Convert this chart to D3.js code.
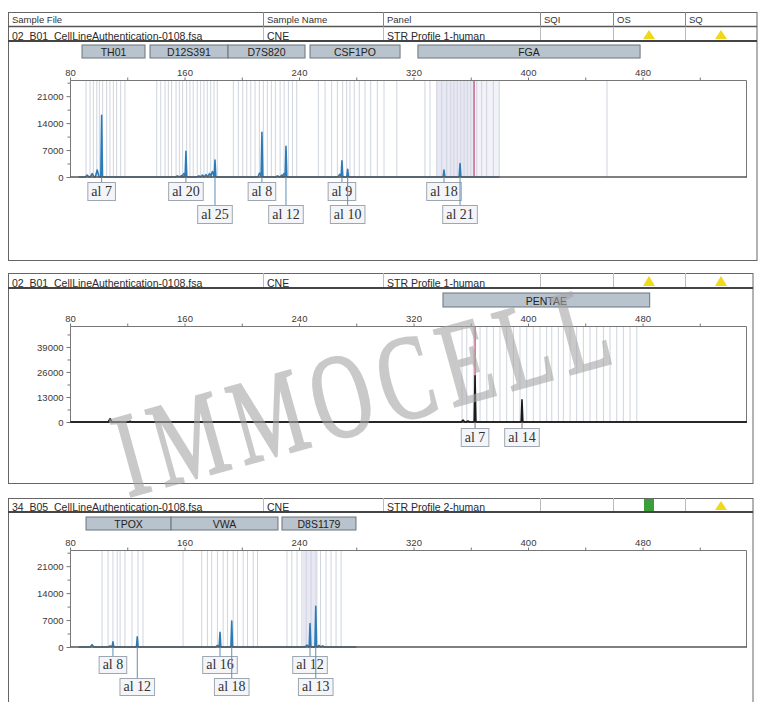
<!DOCTYPE html>
<html><head><meta charset="utf-8">
<script src="https://cdn.jsdelivr.net/npm/d3@7"></script>
<style>body{margin:0;background:#fff}svg{display:block}</style>
</head><body>
<svg id="c" width="760" height="702"></svg>
<script>
// ---------------- DATA ----------------
const xTicks = [80, 160, 240, 320, 400, 480];
const xMinorTicks = [120, 200, 280, 360, 440, 520];
const headerCols = ["Sample File", "Sample Name", "Panel", "SQI", "OS", "SQ"];

// Panel 1
const p1Info = ["02_B01_CellLineAuthentication-0108.fsa", "CNE", "STR Profile 1-human"];
const p1Status = ["", "", "", "warn", "warn"];
const p1YTicks = [0, 7000, 14000, 21000];
const p1YMinor = [3500, 10500, 17500, 24500];
const p1Markers = ["TH01", "D12S391", "D7S820", "CSF1PO", "FGA"];
const p1MarkerStart = [88.4, 135.9, 190.4, 247.7, 323.1];
const p1MarkerEnd = [132.4, 190.4, 244.2, 310.6, 478.3];
const p1Size = [102.1, 161.0, 181.3, 214.1, 230.9, 270.0, 274.0, 341.3, 352.5];
const p1Height = [16000, 6700, 4400, 11600, 8000, 4200, 2000, 1800, 3500];
const p1Allele = ["al 7", "al 20", "al 25", "al 8", "al 12", "al 9", "al 10", "al 18", "al 21"];
const p1LabelRow = [1, 1, 2, 1, 2, 1, 2, 1, 2];
const p1NoiseSize = [92, 95.5, 99, 155, 158, 159.5, 170, 172.5, 175, 177.5, 179.5, 212.5, 225, 228, 229.5, 268.5];
const p1NoiseHeight = [500, 900, 1800, 300, 400, 900, 300, 500, 600, 900, 1400, 1000, 300, 500, 900, 700];
const p1Bins = [91.2, 94, 96.3, 98.7, 100.5, 102.8, 105.6, 107.9, 110.3, 112.6, 115.4, 118.4,
  140.6, 143.4, 146.4, 148.7, 151, 154.1, 156.4, 158.7, 161.5, 163.8, 166.1, 168.9, 171.3, 173.6, 175.9, 178.3, 180.6, 182.9,
  194.1, 197.6, 200.7, 203.5, 206.3, 209.3, 212.3, 215.1, 217.9, 220.7, 223.5, 226.8, 229.6, 232.6, 235.4, 238.4,
  253.5, 258.2, 262.8, 266.8, 270.5, 273.3, 275.6, 278.6, 282.1, 286.1, 290.1, 294.7, 299.4, 308.3,
  328, 331.5, 336.2, 339.7, 343.2, 346, 348.3, 350.6, 353, 355.3, 357.6, 360, 364.2, 367.6, 371.1, 375.8, 379.9, 455.2];
const p1ShadeStart = [336, 362];
const p1ShadeEnd = [362.3, 380];
const p1Cursor = 362.3;

// Panel 2
const p2Info = ["02_B01_CellLineAuthentication-0108.fsa", "CNE", "STR Profile 1-human"];
const p2Status = ["", "", "", "warn", "warn"];
const p2YTicks = [0, 13000, 26000, 39000];
const p2YMinor = [6500, 19500, 32500, 45500];
const p2Markers = ["PENTAE"];
const p2MarkerStart = [340.6];
const p2MarkerEnd = [485];
const p2Size = [363.0, 395.8];
const p2Height = [24000, 11500];
const p2Allele = ["al 7", "al 14"];
const p2LabelRow = [1, 1];
const p2NoiseSize = [108, 122, 354.6, 358];
const p2NoiseHeight = [1700, 400, 1000, 500];
const p2Bins = [353.9, 357.2, 361.8, 366.5, 371.2, 375.8, 380.4, 385.1, 389.8, 394.4, 399.1, 403.7, 408.4, 413, 416.6,
  421.2, 424.7, 429.4, 434, 438.7, 443.3, 448, 452.7, 457.3, 462, 466.6, 471.3, 476];
const p2ShadeStart = [];
const p2ShadeEnd = [];
const p2Cursor = 363.0;

// Panel 3
const p3Info = ["34_B05_CellLineAuthentication-0108.fsa", "CNE", "STR Profile 2-human"];
const p3Status = ["", "", "", "pass", "warn"];
const p3YTicks = [0, 7000, 14000, 21000];
const p3YMinor = [3500, 10500, 17500, 24500];
const p3Markers = ["TPOX", "VWA", "D8S1179"];
const p3MarkerStart = [91.2, 150.6, 228.1];
const p3MarkerEnd = [150.6, 225.3, 279.8];
const p3Size = [110.0, 127.0, 184.8, 193.0, 247.7, 251.7];
const p3Height = [1360, 2650, 3850, 6750, 6070, 10600];
const p3Allele = ["al 8", "al 12", "al 16", "al 18", "al 12", "al 13"];
const p3LabelRow = [1, 2, 1, 2, 1, 2];
const p3NoiseSize = [95.4, 108, 183, 245.5, 254, 256.5];
const p3NoiseHeight = [600, 300, 400, 500, 400, 300];
const p3Bins = [102.4, 106.6, 110, 113, 115, 118.4, 123.3, 127.5, 131,
  159, 172, 176, 179, 183, 187, 190, 194, 197, 201, 204, 208, 211,
  231.6, 235, 238.6, 242, 245, 248.4, 252, 255, 258.9, 262.4, 265.9, 269.4];
const p3ShadeStart = [242.5];
const p3ShadeEnd = [253];
const p3Cursor = null;

const watermarkText = "IMMOCELL";

// ---------------- LAYOUT ----------------
const panels = [
  {info: p1Info, status: p1Status, yTicks: p1YTicks, yMinor: p1YMinor, markers: p1Markers, mS: p1MarkerStart, mE: p1MarkerEnd,
   size: p1Size, height: p1Height, allele: p1Allele, row: p1LabelRow, nS: p1NoiseSize, nH: p1NoiseHeight, bins: p1Bins,
   shS: p1ShadeStart, shE: p1ShadeEnd, cursor: p1Cursor, color: "#2c7bb6", traceStart: 86, traceEnd: 380,
   headTop: 12, rowTop: 27, rowBot: 41, frameBot: 260, frameRight: 757, markerTop: 45, markerH: 13,
   plotTop: 80, plotBot: 177, yMax: 25200, lab1: 182, lab2: 205, boxH: 18},
  {info: p2Info, status: p2Status, yTicks: p2YTicks, yMinor: p2YMinor, markers: p2Markers, mS: p2MarkerStart, mE: p2MarkerEnd,
   size: p2Size, height: p2Height, allele: p2Allele, row: p2LabelRow, nS: p2NoiseSize, nH: p2NoiseHeight, bins: p2Bins,
   shS: p2ShadeStart, shE: p2ShadeEnd, cursor: p2Cursor, color: "#1a1a1a", traceStart: 80, traceEnd: 553,
   headTop: null, rowTop: 273, rowBot: 288, frameBot: 483, frameRight: 753, markerTop: 293, markerH: 14,
   plotTop: 326, plotBot: 422, yMax: 49900, lab1: 428, lab2: 451, boxH: 18},
  {info: p3Info, status: p3Status, yTicks: p3YTicks, yMinor: p3YMinor, markers: p3Markers, mS: p3MarkerStart, mE: p3MarkerEnd,
   size: p3Size, height: p3Height, allele: p3Allele, row: p3LabelRow, nS: p3NoiseSize, nH: p3NoiseHeight, bins: p3Bins,
   shS: p3ShadeStart, shE: p3ShadeEnd, cursor: p3Cursor, color: "#2c7bb6", traceStart: 86, traceEnd: 280,
   headTop: null, rowTop: 498, rowBot: 512, frameBot: 720, frameRight: 753, markerTop: 517, markerH: 13,
   plotTop: 550, plotBot: 647, yMax: 25200, lab1: 656, lab2: 678, boxH: 17}
];
const colX = [8, 263, 383, 540, 613, 685];
const SANS = "'Liberation Sans', Arial, sans-serif";
const SERIF = "'Liberation Serif', 'Times New Roman', serif";

const svg = d3.select("#c");
const x = d3.scaleLinear().domain([80, 553]).range([70, 747]);

panels.forEach(P => {
  const g = svg.append("g");
  const top = P.headTop !== null ? P.headTop : P.rowTop;
  const right = P.frameRight;
  g.append("rect").attr("x", 8.5).attr("y", top + 0.5).attr("width", right - 8.5).attr("height", P.frameBot - top)
    .attr("fill", "none").attr("stroke", "#666").attr("stroke-width", 1);
  if (P.headTop !== null) {
    g.append("line").attr("x1", 8).attr("x2", right).attr("y1", P.rowTop - 0.5).attr("y2", P.rowTop - 0.5)
      .attr("stroke", "#555").attr("stroke-width", 1.5);
    headerCols.forEach((h, i) => {
      g.append("text").attr("x", colX[i] + 4).attr("y", P.rowTop - 4).text(h)
        .attr("font-family", SANS).attr("font-size", 9.5).attr("fill", "#333");
      if (i > 0) g.append("line").attr("x1", colX[i] + .5).attr("x2", colX[i] + .5).attr("y1", top).attr("y2", P.rowTop)
        .attr("stroke", "#888");
    });
  }
  colX.forEach((cx, i) => {
    if (i > 0) g.append("line").attr("x1", cx + .5).attr("x2", cx + .5).attr("y1", P.rowTop).attr("y2", P.rowBot)
      .attr("stroke", "#bbb");
  });
  P.info.forEach((t, i) => {
    g.append("text").attr("x", colX[i] + 4).attr("y", P.rowBot - 1.5).text(t)
      .attr("font-family", SANS).attr("font-size", 10.5).attr("fill", "#2a2a2a");
  });
  g.append("line").attr("x1", 8).attr("x2", right).attr("y1", P.rowBot).attr("y2", P.rowBot)
    .attr("stroke", "#444").attr("stroke-width", 2);
  [[4, P.status[3]], [5, P.status[4]]].forEach(([ci, st]) => {
    const cx = ci === 4 ? 649 : 721;
    if (st === "warn") {
      g.append("path").attr("d", `M${cx},${P.rowTop + 3} L${cx + 6},${P.rowBot - 2} L${cx - 6},${P.rowBot - 2} Z`)
        .attr("fill", "#f0d81c");
    } else if (st === "pass") {
      g.append("rect").attr("x", cx - 5).attr("y", P.rowTop + 1).attr("width", 10).attr("height", P.rowBot - P.rowTop - 2)
        .attr("fill", "#3a9e3a");
    }
  });
  P.markers.forEach((m, i) => {
    const x0 = x(P.mS[i]), x1 = x(P.mE[i]);
    g.append("rect").attr("x", x0).attr("y", P.markerTop).attr("width", x1 - x0).attr("height", P.markerH)
      .attr("fill", "#b9c3cd").attr("stroke", "#6b747e").attr("stroke-width", 1);
    g.append("text").attr("x", (x0 + x1) / 2).attr("y", P.markerTop + P.markerH - 2.5).attr("text-anchor", "middle")
      .text(m).attr("font-family", SANS).attr("font-size", 10.5).attr("fill", "#222");
  });

  const y = d3.scaleLinear().domain([0, P.yMax]).range([P.plotBot, P.plotTop]);
  const plotH = P.plotBot - P.plotTop;
  P.shS.forEach((s, i) => {
    g.append("rect").attr("x", x(s)).attr("y", P.plotTop).attr("width", x(P.shE[i]) - x(s)).attr("height", plotH)
      .attr("fill", i === 0 ? "#dedef0" : "#ededf6").attr("opacity", 0.7);
  });
  g.selectAll(null).data(P.bins).enter().append("line")
    .attr("x1", d => x(d)).attr("x2", d => x(d)).attr("y1", P.plotTop).attr("y2", P.plotBot)
    .attr("stroke", "#cfd4de").attr("stroke-width", 1);
  if (P.cursor !== null) {
    g.append("line").attr("x1", x(P.cursor)).attr("x2", x(P.cursor)).attr("y1", P.plotTop).attr("y2", P.plotBot)
      .attr("stroke", "#c0406a").attr("stroke-width", 1.2);
  }
  const feats = [];
  P.size.forEach((s, i) => feats.push({s, h: P.height[i], w: 0.6}));
  P.nS.forEach((s, i) => feats.push({s, h: P.nH[i], w: 1.3}));
  feats.sort((a, b) => a.s - b.s);
  const pts = [[P.traceStart, 0]];
  feats.forEach(f => { pts.push([f.s - f.w, 0], [f.s, f.h], [f.s + f.w, 0]); });
  pts.push([P.traceEnd, 0]);
  const line = d3.line().x(d => x(d[0])).y(d => y(d[1]));
  g.append("path").attr("d", line(pts)).attr("fill", "none").attr("stroke", P.color)
    .attr("stroke-width", 1.6).attr("stroke-linejoin", "round");
  g.append("path").attr("d", `M70.5,${P.plotBot} V${P.plotTop + .5} H746.5 V${P.plotBot}`)
    .attr("fill", "none").attr("stroke", "#777").attr("stroke-width", 1);
  g.append("line").attr("x1", 70).attr("x2", 747).attr("y1", P.plotBot).attr("y2", P.plotBot)
    .attr("stroke", P.color === "#1a1a1a" ? "#1a1a1a" : "#555").attr("stroke-width", 1.3);
  const ax = g.append("g").attr("transform", `translate(0,${P.plotTop + .5})`)
    .call(d3.axisTop(x).tickValues(xTicks).tickSize(3).tickPadding(2).tickFormat(d3.format("d")));
  ax.append("g").call(d3.axisTop(x).tickValues(xMinorTicks).tickSize(3).tickFormat(""));
  const ay = g.append("g").attr("transform", "translate(70.5,0)")
    .call(d3.axisLeft(y).tickValues(P.yTicks).tickSize(4).tickPadding(3).tickFormat(d3.format("d")));
  ay.append("g").call(d3.axisLeft(y).tickValues(P.yMinor).tickSize(3).tickFormat(""));
  [ax, ay].forEach(a => {
    a.selectAll(".domain").remove();
    a.selectAll("line").attr("stroke", "#777");
    a.selectAll("text").attr("font-family", SANS).attr("font-size", 9.5).attr("fill", "#3a3a3a");
  });
  P.size.forEach((s, i) => {
    const px = x(s);
    const by = P.row[i] === 1 ? P.lab1 : P.lab2;
    g.append("line").attr("x1", px).attr("x2", px).attr("y1", P.plotBot).attr("y2", by)
      .attr("stroke", P.color === "#1a1a1a" ? "#777" : "#5a8fb8").attr("stroke-width", 1);
    const t = g.append("text").attr("x", px).attr("y", by + P.boxH - 4.5).attr("text-anchor", "middle")
      .text(P.allele[i]).attr("font-family", SERIF).attr("font-size", 14).attr("fill", "#333");
    const tw = t.node().getComputedTextLength();
    g.insert("rect", function () { return t.node(); })
      .attr("x", px - tw / 2 - 3.5).attr("y", by + .5).attr("width", tw + 7).attr("height", P.boxH)
      .attr("fill", "#f3f5f8").attr("stroke", "#9ea7b1").attr("stroke-width", 1);
  });
});

// watermark
svg.append("text").text(watermarkText)
  .attr("transform", "translate(128,497) rotate(-15.5) scale(0.68,1)")
  .attr("textLength", 745).attr("lengthAdjust", "spacing")
  .attr("font-family", SERIF).attr("font-size", 120)
  .attr("fill", "#a6a6a6").attr("stroke", "#a6a6a6").attr("stroke-width", 2.5)
  .attr("opacity", 0.6);
</script>
</body></html>
